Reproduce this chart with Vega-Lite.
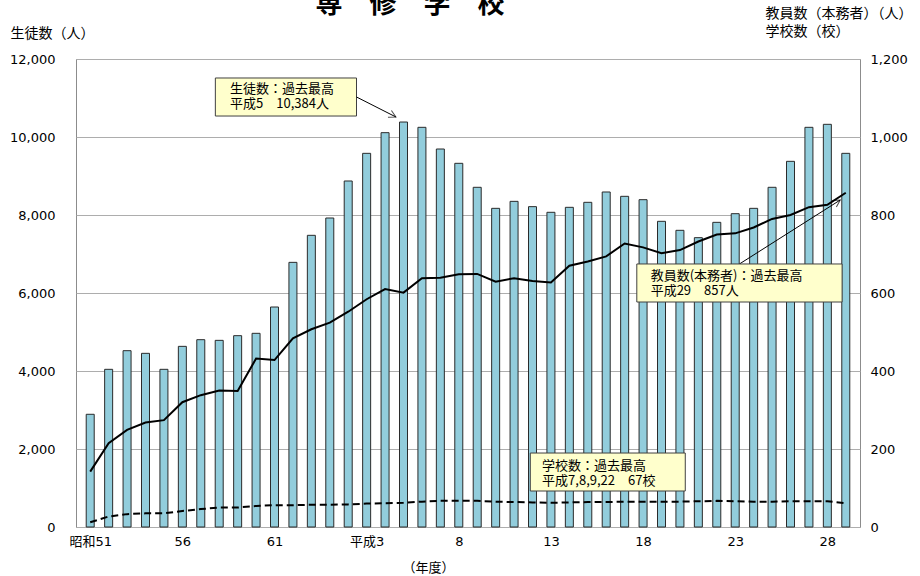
{
  "$schema": "https://vega.github.io/schema/vega-lite/v6.json",
  "width": 784,
  "height": 468,
  "autosize": "none",
  "padding": {"left": 76, "top": 59, "right": 60, "bottom": 49},
  "background": "white",
  "title": {
    "text": "専　修　学　校",
    "font": "Noto Sans CJK JP",
    "fontSize": 27,
    "fontWeight": "bold",
    "color": "#000000",
    "anchor": "middle",
    "frame": "group",
    "dx": -58,
    "dy": 34,
    "baseline": "alphabetic",
    "offset": 0
  },
  "config": {
    "view": {"stroke": "#8c8c8c", "strokeWidth": 1},
    "axis": {
      "ticks": false,
      "domain": false,
      "labelColor": "#000000",
      "titleColor": "#000000",
      "titleFontWeight": "normal",
      "labelFont": "DejaVu Sans, Noto Sans CJK JP",
      "titleFont": "Noto Sans CJK JP"
    },
    "axisX": {"grid": false}
  },
  "datasets": {
    "main": [
      {"year": 1976, "nendo": "昭和51", "students": 2890, "teachers": 142, "schools": 12},
      {"year": 1977, "nendo": "昭和52", "students": 4043, "teachers": 215, "schools": 27},
      {"year": 1978, "nendo": "昭和53", "students": 4521, "teachers": 249, "schools": 33},
      {"year": 1979, "nendo": "昭和54", "students": 4453, "teachers": 268, "schools": 35},
      {"year": 1980, "nendo": "昭和55", "students": 4043, "teachers": 274, "schools": 35},
      {"year": 1981, "nendo": "昭和56", "students": 4632, "teachers": 320, "schools": 41},
      {"year": 1982, "nendo": "昭和57", "students": 4803, "teachers": 338, "schools": 46},
      {"year": 1983, "nendo": "昭和58", "students": 4786, "teachers": 350, "schools": 50},
      {"year": 1984, "nendo": "昭和59", "students": 4906, "teachers": 349, "schools": 50},
      {"year": 1985, "nendo": "昭和60", "students": 4966, "teachers": 432, "schools": 54},
      {"year": 1986, "nendo": "昭和61", "students": 5641, "teachers": 428, "schools": 56},
      {"year": 1987, "nendo": "昭和62", "students": 6786, "teachers": 484, "schools": 56},
      {"year": 1988, "nendo": "昭和63", "students": 7479, "teachers": 507, "schools": 57},
      {"year": 1989, "nendo": "平成元", "students": 7923, "teachers": 524, "schools": 57},
      {"year": 1990, "nendo": "平成2", "students": 8872, "teachers": 552, "schools": 58},
      {"year": 1991, "nendo": "平成3", "students": 9581, "teachers": 584, "schools": 60},
      {"year": 1992, "nendo": "平成4", "students": 10111, "teachers": 610, "schools": 61},
      {"year": 1993, "nendo": "平成5", "students": 10384, "teachers": 601, "schools": 62},
      {"year": 1994, "nendo": "平成6", "students": 10248, "teachers": 638, "schools": 65},
      {"year": 1995, "nendo": "平成7", "students": 9692, "teachers": 639, "schools": 67},
      {"year": 1996, "nendo": "平成8", "students": 9325, "teachers": 648, "schools": 67},
      {"year": 1997, "nendo": "平成9", "students": 8710, "teachers": 649, "schools": 67},
      {"year": 1998, "nendo": "平成10", "students": 8171, "teachers": 629, "schools": 65},
      {"year": 1999, "nendo": "平成11", "students": 8350, "teachers": 638, "schools": 64},
      {"year": 2000, "nendo": "平成12", "students": 8214, "teachers": 631, "schools": 63},
      {"year": 2001, "nendo": "平成13", "students": 8069, "teachers": 627, "schools": 62},
      {"year": 2002, "nendo": "平成14", "students": 8197, "teachers": 670, "schools": 63},
      {"year": 2003, "nendo": "平成15", "students": 8325, "teachers": 681, "schools": 64},
      {"year": 2004, "nendo": "平成16", "students": 8590, "teachers": 694, "schools": 64},
      {"year": 2005, "nendo": "平成17", "students": 8479, "teachers": 727, "schools": 65},
      {"year": 2006, "nendo": "平成18", "students": 8393, "teachers": 717, "schools": 65},
      {"year": 2007, "nendo": "平成19", "students": 7838, "teachers": 702, "schools": 65},
      {"year": 2008, "nendo": "平成20", "students": 7607, "teachers": 710, "schools": 65},
      {"year": 2009, "nendo": "平成21", "students": 7419, "teachers": 732, "schools": 66},
      {"year": 2010, "nendo": "平成22", "students": 7812, "teachers": 750, "schools": 67},
      {"year": 2011, "nendo": "平成23", "students": 8034, "teachers": 753, "schools": 66},
      {"year": 2012, "nendo": "平成24", "students": 8171, "teachers": 768, "schools": 65},
      {"year": 2013, "nendo": "平成25", "students": 8710, "teachers": 790, "schools": 65},
      {"year": 2014, "nendo": "平成26", "students": 9376, "teachers": 800, "schools": 66},
      {"year": 2015, "nendo": "平成27", "students": 10248, "teachers": 820, "schools": 66},
      {"year": 2016, "nendo": "平成28", "students": 10325, "teachers": 826, "schools": 66},
      {"year": 2017, "nendo": "平成29", "students": 9581, "teachers": 857, "schools": 61}
    ],
    "note_students": [
      {"x_from": 1982.79, "x_to": 1990.45, "y_top": 11513, "y_bottom": 10538, "text_x": 1983.59, "text_y": 11231, "label": "生徒数：過去最高\n平成5　10,384人"}
    ],
    "arrow_students": [
      {"from_x": 1990.45, "from_y": 11026, "to_x": 1992.59, "to_y": 10513}
    ],
    "note_right": [
      {"x_from": 2005.66, "x_to": 2016.8, "y_top": 674.4, "y_bottom": 576.9, "text_x": 2006.41, "text_y": 643.6, "label": "教員数(本務者)：過去最高\n平成29　857人"},
      {"x_from": 1999.88, "x_to": 2008.29, "y_top": 189.7, "y_bottom": 92.3, "text_x": 2000.52, "text_y": 156.4, "label": "学校数：過去最高\n平成7,8,9,22　67校"}
    ],
    "arrow_teachers": [
      {"from_x": 2011.23, "from_y": 674.4, "to_x": 2016.7, "to_y": 838.5}
    ]
  },
  "layer": [
    {
      "layer": [
        {
          "data": {"name": "main"},
          "mark": {"type": "bar", "size": 8, "fill": "#92CDDC", "stroke": "#2b2b2b", "strokeWidth": 1},
          "encoding": {
            "x": {
              "field": "year",
              "type": "quantitative",
              "scale": {"domain": [1975.5, 2017.5], "nice": false, "zero": false},
              "axis": {
                "values": [1976, 1981, 1986, 1991, 1996, 2001, 2006, 2011, 2016],
                "labelExpr": "datum.value == 1976 ? '昭和51' : datum.value == 1991 ? '平成3' : datum.value < 1989 ? '' + (datum.value - 1925) : '' + (datum.value - 1988)",
                "grid": false,
                "labelPadding": 8,
                "labelFontSize": 13,
                "title": "（年度）",
                "titleFontSize": 13,
                "titleX": 352,
                "titleY": 40,
                "titleBaseline": "middle"
              }
            },
            "y": {
              "field": "students",
              "type": "quantitative",
              "scale": {"domain": [0, 12000], "nice": false},
              "axis": {
                "orient": "left",
                "values": [0, 2000, 4000, 6000, 8000, 10000, 12000],
                "format": ",.0f",
                "grid": true,
                "gridColor": "#ADADAD",
                "gridWidth": 1,
                "labelPadding": 21,
                "labelFont": "DejaVu Sans",
                "labelFontSize": 13,
                "title": "生徒数（人）",
                "titleFontSize": 14,
                "titleAngle": 0,
                "titleAlign": "left",
                "titleBaseline": "middle",
                "titleX": -66,
                "titleY": -26
              }
            }
          }
        },
        {
          "data": {"name": "note_students"},
          "mark": {"type": "rect", "fill": "#FFFFCC", "stroke": "#404040", "strokeWidth": 1},
          "encoding": {
            "x": {"field": "x_from", "type": "quantitative"},
            "x2": {"field": "x_to"},
            "y": {"field": "y_top", "type": "quantitative"},
            "y2": {"field": "y_bottom"}
          }
        },
        {
          "data": {"name": "note_students"},
          "mark": {"type": "text", "align": "left", "baseline": "middle", "font": "Noto Sans CJK JP", "fontSize": 13, "lineHeight": 15, "lineBreak": "\n", "color": "#000000"},
          "encoding": {
            "x": {"field": "text_x", "type": "quantitative"},
            "y": {"field": "text_y", "type": "quantitative"},
            "text": {"field": "label"}
          }
        },
        {
          "data": {"name": "arrow_students"},
          "mark": {"type": "rule", "color": "#000000", "strokeWidth": 1},
          "encoding": {
            "x": {"field": "from_x", "type": "quantitative"},
            "y": {"field": "from_y", "type": "quantitative"},
            "x2": {"field": "to_x"},
            "y2": {"field": "to_y"}
          }
        },
        {
          "data": {"name": "arrow_students"},
          "mark": {"type": "point", "shape": "M-1,-0.55L0,0L-1,0.55", "size": 196, "filled": false, "color": "#000000", "strokeWidth": 1, "angle": 26.6},
          "encoding": {
            "x": {"field": "to_x", "type": "quantitative"},
            "y": {"field": "to_y", "type": "quantitative"}
          }
        }
      ]
    },
    {
      "layer": [
        {
          "data": {"name": "main"},
          "mark": {"type": "line", "color": "#000000", "strokeWidth": 2},
          "encoding": {
            "x": {"field": "year", "type": "quantitative"},
            "y": {
              "field": "teachers",
              "type": "quantitative",
              "scale": {"domain": [0, 1200], "nice": false},
              "axis": {
                "orient": "right",
                "values": [0, 200, 400, 600, 800, 1000, 1200],
                "format": ",.0f",
                "grid": false,
                "labelPadding": 10,
                "labelFont": "DejaVu Sans",
                "labelFontSize": 13,
                "title": ["教員数（本務者）（人）", "学校数（校）"],
                "titleFontSize": 14,
                "titleAngle": 0,
                "titleAlign": "left",
                "titleBaseline": "top",
                "titleLineHeight": 18,
                "titleX": -95,
                "titleY": -53
              }
            }
          }
        },
        {
          "data": {"name": "main"},
          "mark": {"type": "line", "color": "#000000", "strokeWidth": 2, "strokeDash": [7, 4]},
          "encoding": {
            "x": {"field": "year", "type": "quantitative"},
            "y": {"field": "schools", "type": "quantitative", "scale": {"domain": [0, 1200], "nice": false}}
          }
        },
        {
          "data": {"name": "arrow_teachers"},
          "mark": {"type": "rule", "color": "#000000", "strokeWidth": 1},
          "encoding": {
            "x": {"field": "from_x", "type": "quantitative"},
            "y": {"field": "from_y", "type": "quantitative"},
            "x2": {"field": "to_x"},
            "y2": {"field": "to_y"}
          }
        },
        {
          "data": {"name": "arrow_teachers"},
          "mark": {"type": "point", "shape": "M-1,-0.55L0,0L-1,0.55", "size": 196, "filled": false, "color": "#000000", "strokeWidth": 1, "angle": -32.1},
          "encoding": {
            "x": {"field": "to_x", "type": "quantitative"},
            "y": {"field": "to_y", "type": "quantitative"}
          }
        },
        {
          "data": {"name": "note_right"},
          "mark": {"type": "rect", "fill": "#FFFFCC", "stroke": "#404040", "strokeWidth": 1},
          "encoding": {
            "x": {"field": "x_from", "type": "quantitative"},
            "x2": {"field": "x_to"},
            "y": {"field": "y_top", "type": "quantitative"},
            "y2": {"field": "y_bottom"}
          }
        },
        {
          "data": {"name": "note_right"},
          "mark": {"type": "text", "align": "left", "baseline": "middle", "font": "Noto Sans CJK JP", "fontSize": 13, "lineHeight": 15, "lineBreak": "\n", "color": "#000000"},
          "encoding": {
            "x": {"field": "text_x", "type": "quantitative"},
            "y": {"field": "text_y", "type": "quantitative"},
            "text": {"field": "label"}
          }
        }
      ]
    }
  ],
  "resolve": {"scale": {"y": "independent"}}
}
